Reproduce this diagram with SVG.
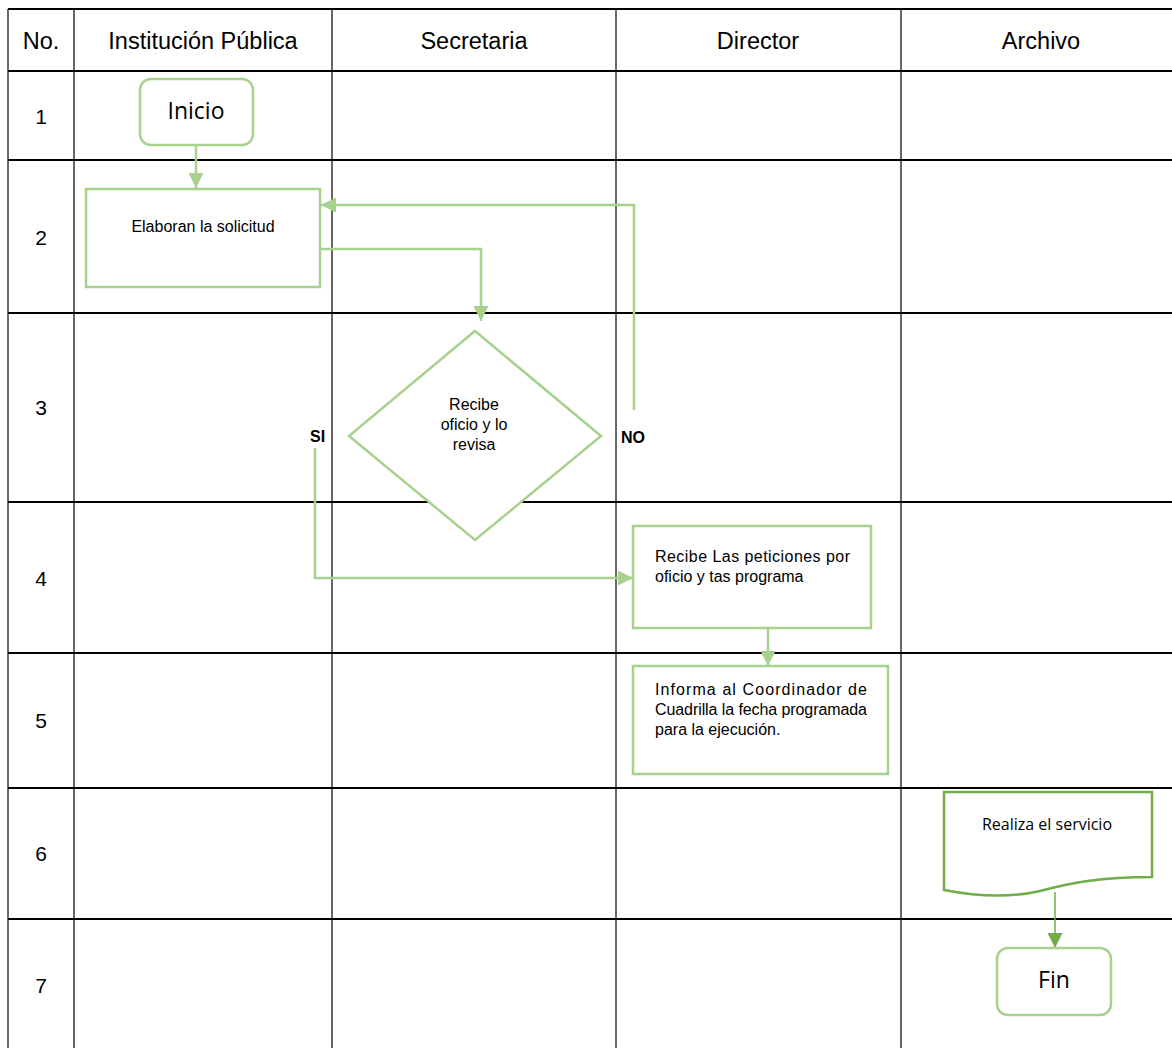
<svg xmlns="http://www.w3.org/2000/svg" width="1172" height="1048" viewBox="0 0 1172 1048">
<style>
.grid-h{stroke:#000;stroke-width:2;}
.grid-v{stroke:#000;stroke-width:1.2;}
.hdr{font-family:"Liberation Sans",Arial,sans-serif;font-size:23.5px;fill:#000;text-anchor:middle;}
.num{font-family:"Liberation Sans",Arial,sans-serif;font-size:21px;fill:#000;text-anchor:middle;}
.node{fill:#fff;stroke:#a9d18e;stroke-width:2.5;}
.node2{fill:#fff;stroke:#70ad47;stroke-width:2.5;}
.t11{font-family:"Liberation Sans",Arial,sans-serif;font-size:16px;fill:#000;}
.tc{text-anchor:middle;}
.big{font-family:"Open Sans","Liberation Sans",sans-serif;font-size:23px;fill:#000;text-anchor:middle;}
.lbl{font-family:"Liberation Sans",Arial,sans-serif;font-size:16px;font-weight:bold;fill:#000;}
.conn{fill:none;stroke:#a9d18e;stroke-width:2.5;}
.conn2{fill:none;stroke:#70ad47;stroke-width:1.5;}
</style>
<defs>
<marker id="ah" viewBox="0 0 10 10" refX="10" refY="5" markerWidth="6" markerHeight="6" markerUnits="strokeWidth" orient="auto">
<path d="M0,0 L10,5 L0,10 Z" fill="#a9d18e"/>
</marker>
<marker id="ah2" viewBox="0 0 10 10" refX="10" refY="5" markerWidth="10" markerHeight="10" markerUnits="strokeWidth" orient="auto">
<path d="M0,0 L10,5 L0,10 Z" fill="#70ad47"/>
</marker>
</defs>
<rect width="1172" height="1048" fill="#fff"/>
<g id="grid">
<line class="grid-h" x1="8" y1="9" x2="1172" y2="9"/>
<line class="grid-h" x1="8" y1="71" x2="1172" y2="71"/>
<line class="grid-h" x1="8" y1="160" x2="1172" y2="160"/>
<line class="grid-h" x1="8" y1="313" x2="1172" y2="313"/>
<line class="grid-h" x1="8" y1="502" x2="1172" y2="502"/>
<line class="grid-h" x1="8" y1="653" x2="1172" y2="653"/>
<line class="grid-h" x1="8" y1="788" x2="1172" y2="788"/>
<line class="grid-h" x1="8" y1="919" x2="1172" y2="919"/>
<line class="grid-v" x1="8" y1="9" x2="8" y2="1048"/>
<line class="grid-v" x1="74" y1="9" x2="74" y2="1048"/>
<line class="grid-v" x1="332" y1="9" x2="332" y2="1048"/>
<line class="grid-v" x1="616" y1="9" x2="616" y2="1048"/>
<line class="grid-v" x1="901" y1="9" x2="901" y2="1048"/>
<text class="hdr" x="41" y="49">No.</text>
<text class="hdr" x="203" y="49">Institución Pública</text>
<text class="hdr" x="474" y="49">Secretaria</text>
<text class="hdr" x="758" y="49">Director</text>
<text class="hdr" x="1041" y="49">Archivo</text>
<text class="num" x="41" y="124">1</text>
<text class="num" x="41" y="245">2</text>
<text class="num" x="41" y="415">3</text>
<text class="num" x="41" y="586">4</text>
<text class="num" x="41" y="728">5</text>
<text class="num" x="41" y="861">6</text>
<text class="num" x="41" y="993">7</text>
</g>
<g id="connectors">
<line class="conn" x1="196" y1="146" x2="196" y2="188" marker-end="url(#ah)"/>
<polyline class="conn" points="321,249 481,249 481,321" marker-end="url(#ah)"/>
<polyline class="conn" points="634,410 634,205 321,205" marker-end="url(#ah)"/>
<polyline class="conn" points="315,448 315,578 633,578" marker-end="url(#ah)"/>
<line class="conn" x1="768" y1="629" x2="768" y2="666" marker-end="url(#ah)"/>
<line class="conn2" x1="1055" y1="892" x2="1055" y2="948" marker-end="url(#ah2)"/>
<text class="lbl" x="310" y="442">SI</text>
<text class="lbl" x="621" y="443">NO</text>
</g>
<g id="inicio">
<rect class="node" x="140" y="79" width="113" height="66" rx="11"/>
<text class="big" x="196" y="119">Inicio</text>
</g>
<g id="elaboran">
<rect class="node" x="86" y="189" width="234" height="98"/>
<text class="t11 tc" x="203" y="232">Elaboran la solicitud</text>
</g>
<g id="decision">
<polygon class="node" points="475,331 601,436 475,540 349,436"/>
<text class="t11 tc" x="474" y="410">Recibe</text>
<text class="t11 tc" x="474" y="430">oficio y lo</text>
<text class="t11 tc" x="474" y="450">revisa</text>
</g>
<g id="recibe">
<rect class="node" x="633" y="526" width="238" height="102"/>
<text class="t11" x="655" y="562" textLength="195" lengthAdjust="spacing">Recibe Las peticiones por</text>
<text class="t11" x="655" y="582">oficio y tas programa</text>
</g>
<g id="informa">
<rect class="node" x="633" y="666" width="255" height="108"/>
<text class="t11" x="655" y="695" textLength="212" lengthAdjust="spacing">Informa al Coordinador de</text>
<text class="t11" x="655" y="715" textLength="212" lengthAdjust="spacing">Cuadrilla la fecha programada</text>
<text class="t11" x="655" y="735">para la ejecución.</text>
</g>
<g id="realiza">
<path class="node2" d="M944,792 H1152 V877 C1100,877 1070,883 1040,891 C1010,898 975,896 944,890 Z"/>
<text x="1047" y="830" text-anchor="middle" font-family="'Open Sans','Liberation Sans',sans-serif" font-size="16" fill="#000">Realiza el servicio</text>
</g>
<g id="fin">
<rect class="node" x="997" y="948" width="114" height="67" rx="11"/>
<text class="big" x="1054" y="988">Fin</text>
</g>
</svg>
